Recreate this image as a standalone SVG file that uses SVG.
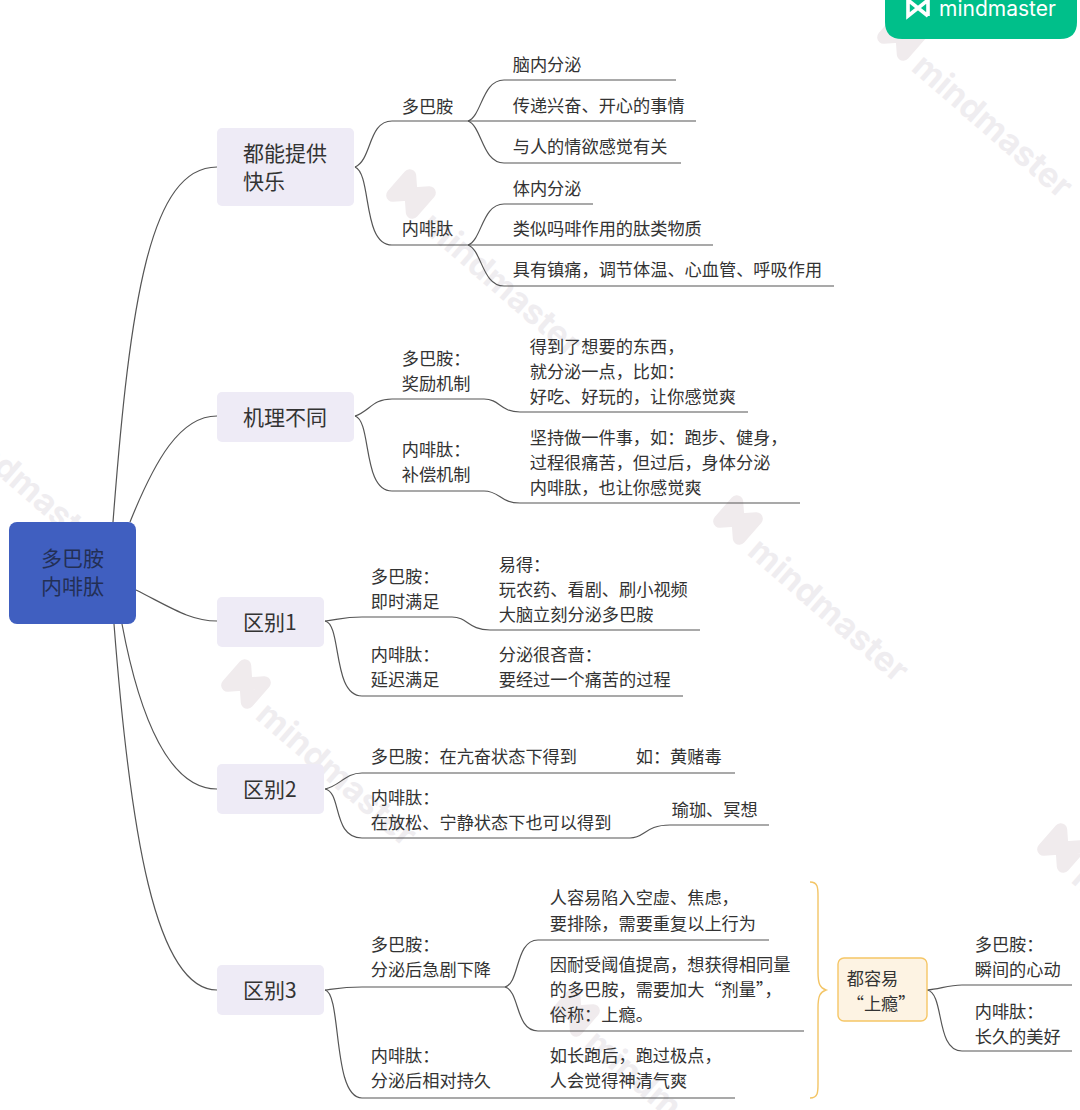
<svg xmlns="http://www.w3.org/2000/svg" width="1080" height="1110" viewBox="0 0 1080 1110">
<style>
text{font-family:"Noto Sans CJK SC","Noto Sans",sans-serif;fill:#333;font-size:17.2px;transform:translate(-.3px,.2px)}
text.l2{font-size:21px;transform:translate(0,-.4px)}
text.wm{font-family:"Inter","Noto Sans",sans-serif;font-size:34px;font-weight:700;fill:#efedf0;transform:none}
.wi{fill:none;stroke:#f0ebed;stroke-width:13;stroke-linejoin:round;stroke-linecap:round}
.box{fill:#eeebf6}
.c{fill:none;stroke:#555;stroke-width:1.2}
</style>
<defs>
<g id="wmk">
<path class="wi" d="M-13,-13V13L13,-13V13M-13,-13L13,13"/>
<text class="wm" x="28" y="20">mindmaster</text>
</g>
</defs>
<rect width="1080" height="1110" fill="#fff"/>
<g id="watermarks">
<use href="#wmk" transform="translate(902,36) rotate(41)"/>
<use href="#wmk" transform="translate(411,194) rotate(41)"/>
<use href="#wmk" transform="translate(-63,396) rotate(41)"/>
<use href="#wmk" transform="translate(738,520) rotate(41)"/>
<use href="#wmk" transform="translate(246,684) rotate(41)"/>
<use href="#wmk" transform="translate(1062,848) rotate(41)"/>
<use href="#wmk" transform="translate(575,1012) rotate(41)"/>
</g>
<g id="badge">
<path d="M885,0H1077V22Q1077,39 1060,39H902Q885,39 885,22Z" fill="#00bf8a"/>
<path d="M908,0V16L928,0V16M908,0L928,16" fill="none" stroke="#fff" stroke-width="3.6"/>
<text x="939.4" y="16" style="font-family:Inter,sans-serif;font-size:21px;fill:#fff">mindmaster</text>
</g>
<g id="connectors">
<path class="c" d="M113,522C130,300 150,167 217,167"/>
<path class="c" d="M130,522C155,460 180,416 217,416"/>
<path class="c" d="M136,590C170,607 190,621 217,621"/>
<path class="c" d="M122,624C140,720 170,789 217,789"/>
<path class="c" d="M114,624C130,830 155,990 217,990"/>
<path class="c" d="M355,167C372,160 368,121 392,121H468"/>
<path class="c" d="M355,167C372,174 362,245 392,245H468"/>
<path class="c" d="M468,121C482,116 482,80 504,80H676"/>
<path class="c" d="M468,121H696"/>
<path class="c" d="M468,121C482,126 482,163 504,163H681"/>
<path class="c" d="M468,245C482,240 482,204 504,204H593"/>
<path class="c" d="M468,245H713"/>
<path class="c" d="M468,245C482,250 482,286 504,286H834"/>
<path class="c" d="M355,416C370,411 372,399 392,399H484C500,399 500,412 520,412H748"/>
<path class="c" d="M355,416C372,421 362,491 392,491H484C500,491 500,503 520,503H800"/>
<path class="c" d="M325,621C340,619 345,617 362,617H452C468,617 468,630 490,630H700"/>
<path class="c" d="M325,621C342,624 332,696 362,696H683"/>
<path class="c" d="M325,789C340,786 345,773 362,773H735"/>
<path class="c" d="M325,789C342,792 332,838 362,838H630C645,838 645,825 670,825H769"/>
<path class="c" d="M325,990C340,988 345,987 362,987H505"/>
<path class="c" d="M325,990C342,993 332,1098 362,1098H735"/>
<path class="c" d="M505,987C520,983 515,940 538,940H769"/>
<path class="c" d="M505,987C520,991 515,1031 538,1031H804"/>
<path class="c" d="M927,990C940,989 948,985 962,985H1072"/>
<path class="c" d="M927,990C945,993 935,1051 962,1051H1072"/>
<path fill="none" stroke="#f3c566" stroke-width="1.4" d="M810,882C818,882 818,888 818,896V972C818,984 820,988 826,990C820,992 818,996 818,1008V1084C818,1092 818,1098 810,1098"/>
</g>
<g id="root"><rect x="9" y="522" width="127" height="102" rx="8" fill="#405fc0"/><text class="l2" x="41" y="566" style="fill:#232f55">多巴胺</text><text class="l2" x="41" y="594" style="fill:#232f55">内啡肽</text></g>
<g id="n1"><rect class="box" x="217" y="128" width="137" height="78" rx="5"/><text class="l2" x="243" y="161">都能提供</text><text class="l2" x="243" y="189">快乐</text></g>
<g id="n2"><rect class="box" x="217" y="392" width="137" height="50" rx="5"/><text class="l2" x="243" y="425">机理不同</text></g>
<g id="n3"><rect class="box" x="217" y="597" width="107" height="50" rx="5"/><text class="l2" x="243" y="630">区别1</text></g>
<g id="n4"><rect class="box" x="217" y="764" width="107" height="50" rx="5"/><text class="l2" x="243" y="797">区别2</text></g>
<g id="n5"><rect class="box" x="217" y="965" width="107" height="50" rx="5"/><text class="l2" x="243" y="998">区别3</text></g>
<g id="n1a"><text x="402" y="113">多巴胺</text></g>
<g id="n1b"><text x="402" y="235">内啡肽</text></g>
<g id="n1a1"><text x="513" y="71">脑内分泌</text></g>
<g id="n1a2"><text x="513" y="112">传递兴奋、开心的事情</text></g>
<g id="n1a3"><text x="513" y="153">与人的情欲感觉有关</text></g>
<g id="n1b1"><text x="513" y="195">体内分泌</text></g>
<g id="n1b2"><text x="513" y="235">类似吗啡作用的肽类物质</text></g>
<g id="n1b3"><text x="513" y="276">具有镇痛，调节体温、心血管、呼吸作用</text></g>
<g id="n2a"><text x="402" y="365">多巴胺：</text><text x="402" y="390">奖励机制</text></g>
<g id="n2a1"><text x="530" y="353">得到了想要的东西，</text><text x="530" y="378">就分泌一点，比如：</text><text x="530" y="403">好吃、好玩的，让你感觉爽</text></g>
<g id="n2b"><text x="402" y="456">内啡肽：</text><text x="402" y="481">补偿机制</text></g>
<g id="n2b1"><text x="530" y="444">坚持做一件事，如：跑步、健身，</text><text x="530" y="469">过程很痛苦，但过后，身体分泌</text><text x="530" y="494">内啡肽，也让你感觉爽</text></g>
<g id="n3a"><text x="371" y="583">多巴胺：</text><text x="371" y="608">即时满足</text></g>
<g id="n3a1"><text x="499" y="571">易得：</text><text x="499" y="596">玩农药、看剧、刷小视频</text><text x="499" y="621">大脑立刻分泌多巴胺</text></g>
<g id="n3b"><text x="371" y="661">内啡肽：</text><text x="371" y="686">延迟满足</text></g>
<g id="n3b1"><text x="499" y="661">分泌很吝啬：</text><text x="499" y="686">要经过一个痛苦的过程</text></g>
<g id="n4a"><text x="371" y="763">多巴胺：在亢奋状态下得到</text><text x="636" y="763">如：黄赌毒</text></g>
<g id="n4b"><text x="371" y="804">内啡肽：</text><text x="371" y="829">在放松、宁静状态下也可以得到</text></g>
<g id="n4b1"><text x="672" y="816">瑜珈、冥想</text></g>
<g id="n5a"><text x="371" y="951">多巴胺：</text><text x="371" y="976">分泌后急剧下降</text></g>
<g id="n5a1"><text x="550" y="904">人容易陷入空虚、焦虑，</text><text x="550" y="930">要排除，需要重复以上行为</text></g>
<g id="n5a2"><text x="550" y="971">因耐受阈值提高，想获得相同量</text><text x="550" y="996">的多巴胺，需要加大“剂量”，</text><text x="550" y="1021">俗称：上瘾。</text></g>
<g id="n5b"><text x="371" y="1062">内啡肽：</text><text x="371" y="1087">分泌后相对持久</text></g>
<g id="n5b1"><text x="550" y="1062">如长跑后，跑过极点，</text><text x="550" y="1087">人会觉得神清气爽</text></g>
<g id="n6"><rect x="838" y="958" width="89" height="63" rx="6" fill="#fdf3e3" stroke="#f5c666" stroke-width="1.4"/><text x="847" y="985">都容易</text><text x="847" y="1010"> “上瘾”</text></g>
<g id="n6a"><text x="975" y="951">多巴胺：</text><text x="975" y="976">瞬间的心动</text></g>
<g id="n6b"><text x="975" y="1018">内啡肽：</text><text x="975" y="1043">长久的美好</text></g>
</svg>
